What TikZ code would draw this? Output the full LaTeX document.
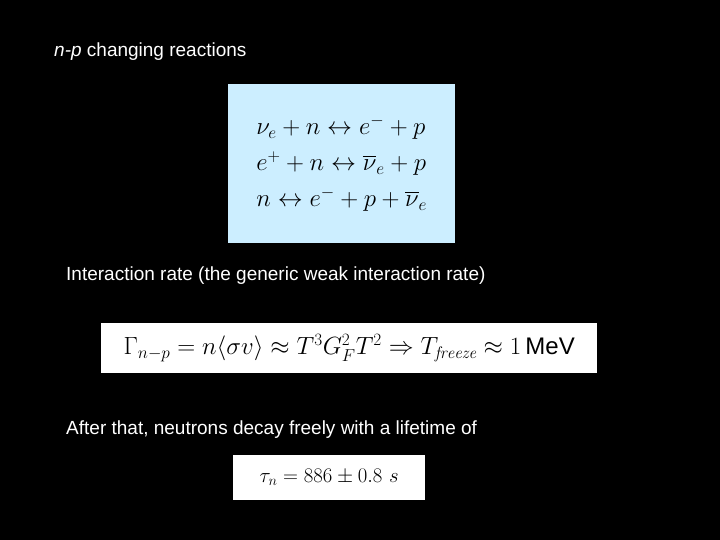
\documentclass[tikz,border=0pt]{standalone}
\usepackage{fontspec}
\usepackage{amsmath,amssymb}
\setsansfont{Liberation Sans}
\usetikzlibrary{positioning}
\definecolor{eqblue}{RGB}{204,238,255}
\tikzset{
  slidetext/.style={text=white, font=\sffamily\fontsize{19}{22}\selectfont, anchor=west, inner sep=0pt},
  eqbox/.style={fill=white, draw=none, inner sep=0pt, text=black}
}
\begin{document}
\begin{tikzpicture}[x=1pt,y=-1pt]
\useasboundingbox (0,0) rectangle (720,540);
\fill[black] (0,0) rectangle (720,540);

\node[slidetext] (title) at (54,52) {\textit{n-p} changing reactions};

\node[eqbox, fill=eqblue, minimum width=227pt, minimum height=159pt, anchor=north west] (reac) at (228,84)
 {\fontsize{27}{36}\selectfont$\begin{array}{@{}l@{}}
 \nu_e + n \leftrightarrow e^- + p\\
 e^+ + n \leftrightarrow \overline{\nu}_e + p\\
 n \leftrightarrow e^- + p + \overline{\nu}_e
 \end{array}$};

\node[slidetext] (rate) at (66,276) {Interaction rate (the generic weak interaction rate)};

\node[eqbox, minimum width=496pt, minimum height=50pt, anchor=north west] (gamma) at (101,323)
 {\fontsize{24}{28}\selectfont$\Gamma_{n-p} = n\langle\sigma v\rangle \approx T^3G_F^2T^2 \Rightarrow T_{\mathit{freeze}} \approx 1\,\text{\sffamily MeV}$};

\node[slidetext] (after) at (66,430) {After that, neutrons decay freely with a lifetime of};

\node[eqbox, minimum width=192pt, minimum height=45pt, anchor=north west] (tau) at (233,455)
 {\fontsize{22}{26}\selectfont$\tau_n = 886 \pm 0.8\ s$};
\end{tikzpicture}
\end{document}
